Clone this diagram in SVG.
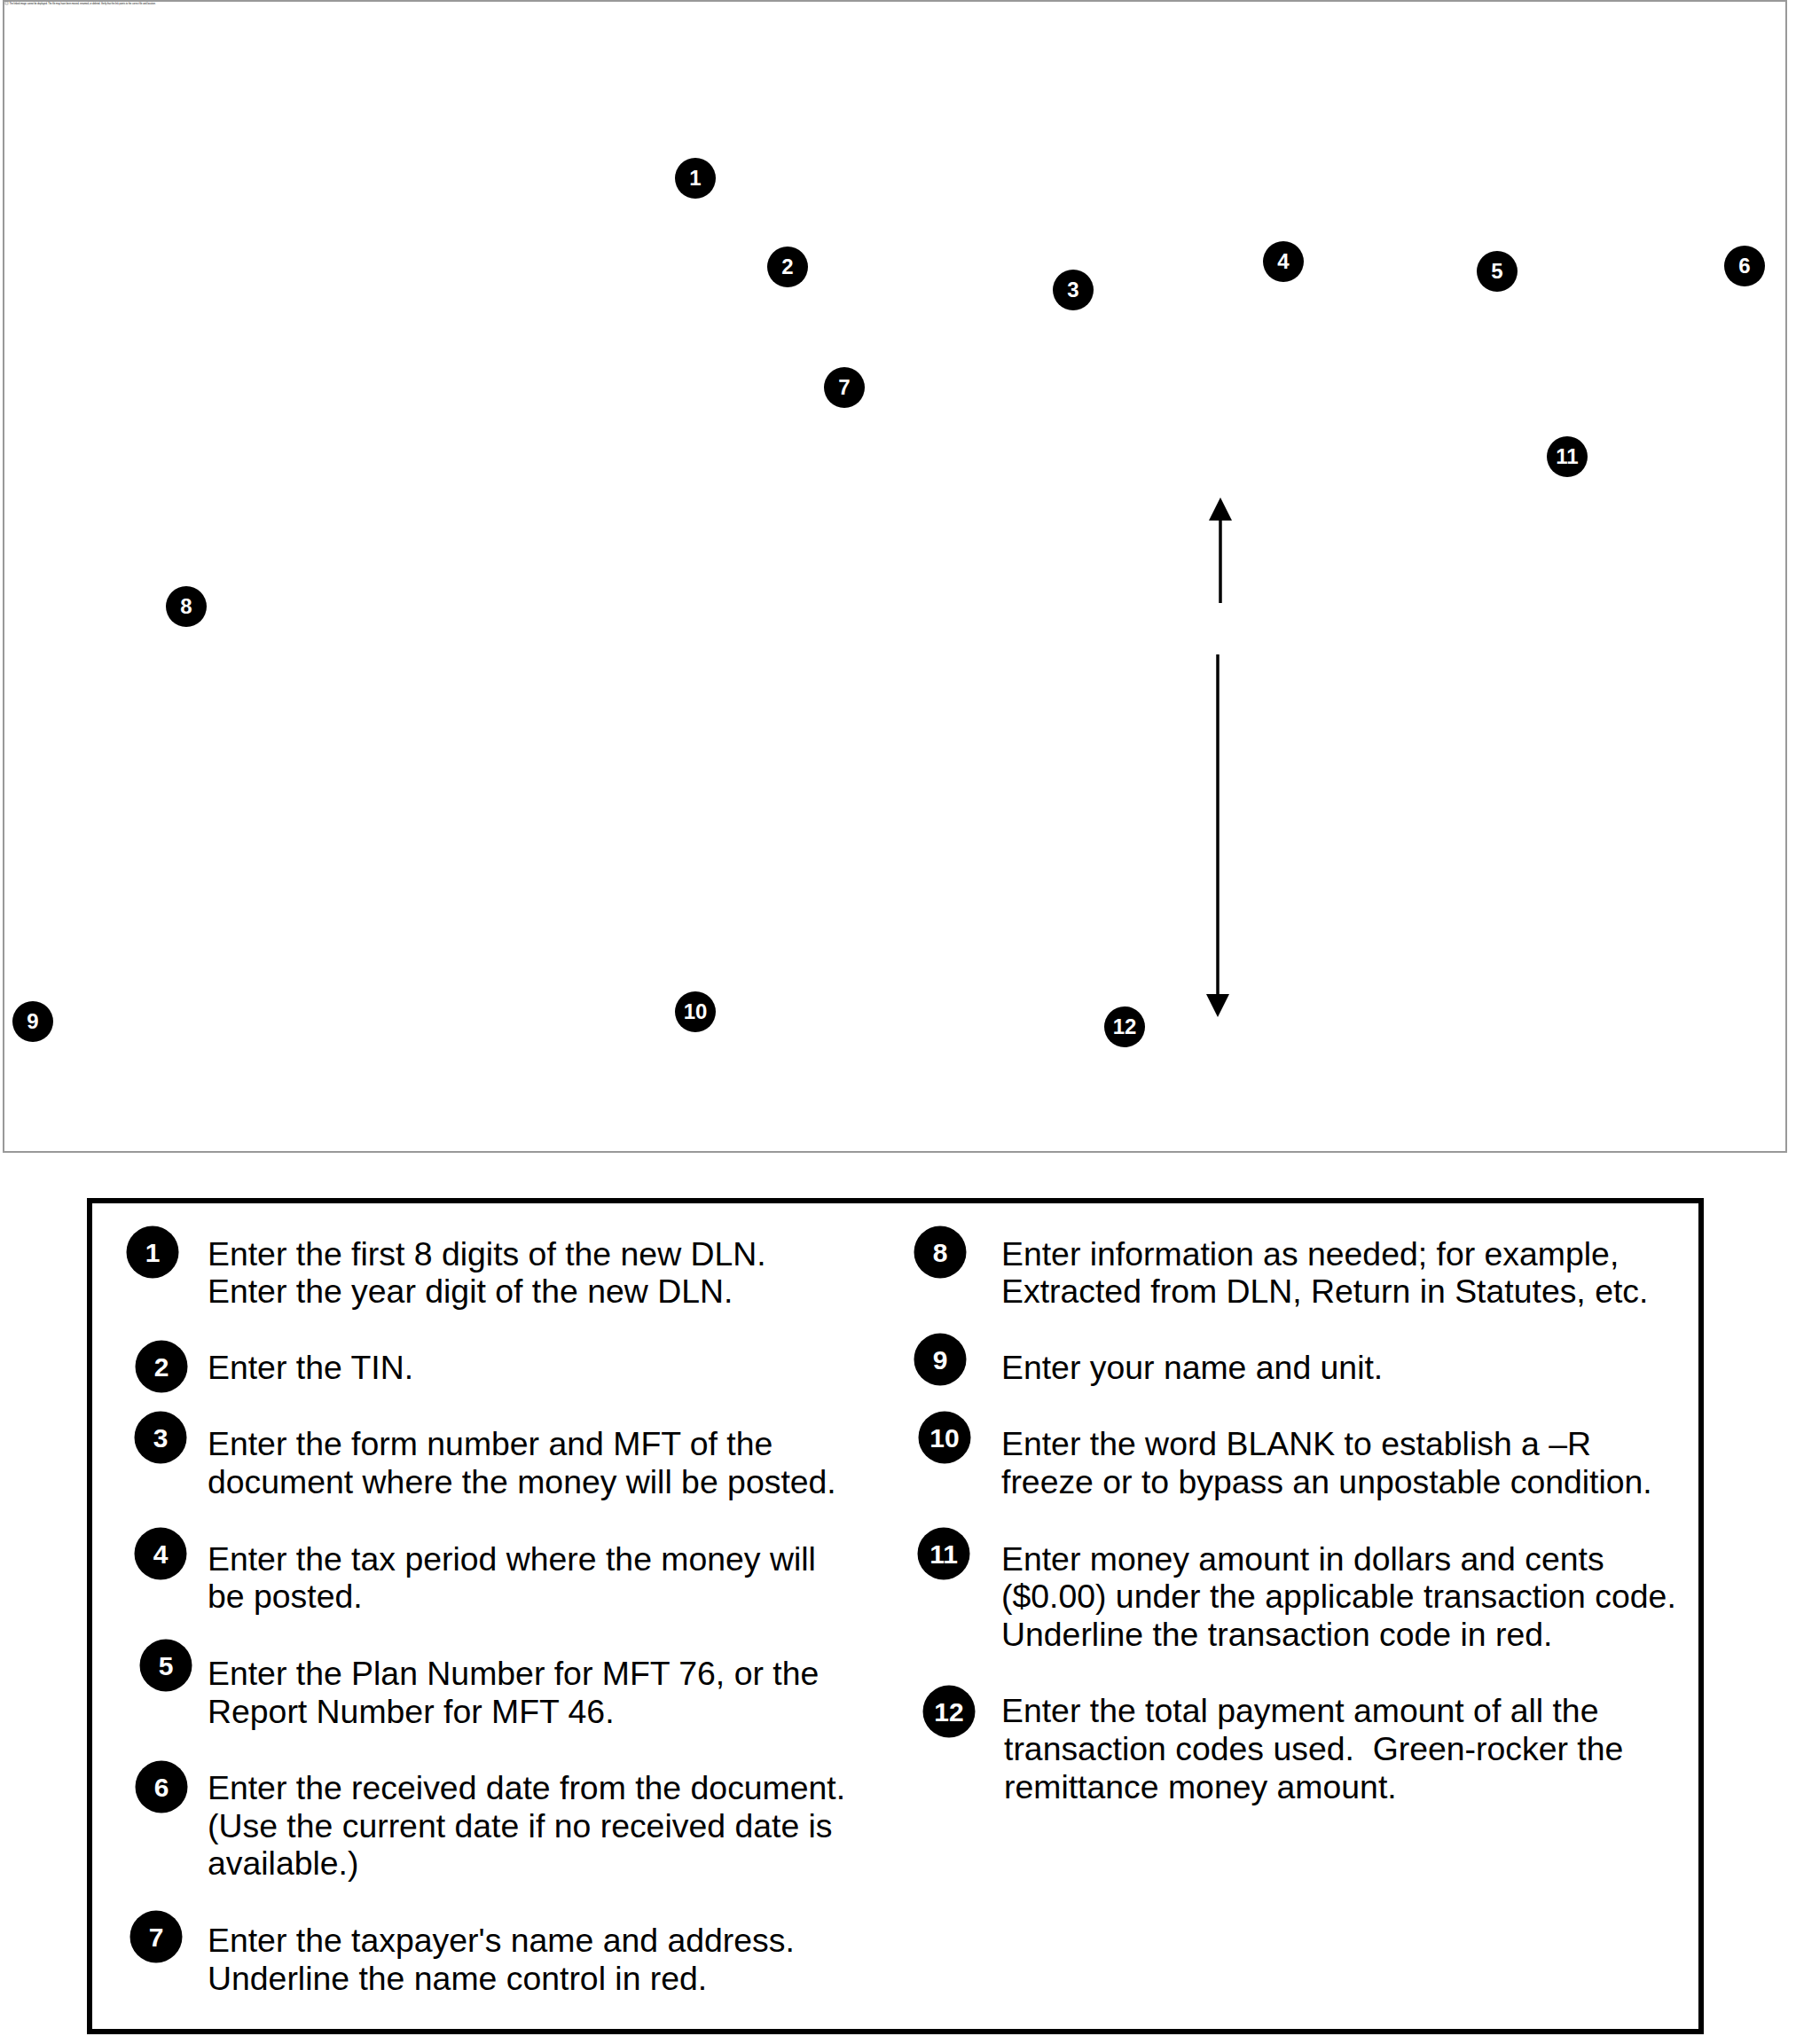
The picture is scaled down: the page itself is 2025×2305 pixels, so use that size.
<svg xmlns="http://www.w3.org/2000/svg" width="2025" height="2305" viewBox="0 0 2025 2305">
<style>
.bg{fill:#ffffff}
.frame{fill:none;stroke:#999999;stroke-width:2}
.box{fill:none;stroke:#000000;stroke-width:6}
.dot{fill:#000000}
.num{font-family:"Liberation Sans",Arial,sans-serif;font-weight:bold;font-size:24px;fill:#ffffff;text-anchor:middle}
.lnum{font-family:"Liberation Sans",Arial,sans-serif;font-weight:bold;font-size:30px;fill:#ffffff;text-anchor:middle}
.txt{font-family:"Liberation Sans",Arial,sans-serif;font-size:37.4px;fill:#000000}
.tiny{font-family:"Liberation Sans",Arial,sans-serif;font-size:2.6px;fill:#000000}
.conn{stroke:#000000;stroke-width:3.5;fill:none}
</style>
<defs>
<marker id="ah" markerUnits="userSpaceOnUse" markerWidth="26" markerHeight="26" refX="0" refY="13" orient="auto">
<path d="M0,0 L26,13 L0,26 z" fill="#000000"/>
</marker>
</defs>
<rect class="bg" x="0" y="0" width="2025" height="2305"/>
<rect class="frame" x="4" y="1" width="2010" height="1298"/>
<g id="placeholder">
<rect x="6" y="2" width="3" height="3" fill="none" stroke="#888888" stroke-width="0.6"/>
<text class="tiny" x="10.5" y="4.6" textLength="165" lengthAdjust="spacingAndGlyphs">The linked image cannot be displayed.  The file may have been moved, renamed, or deleted. Verify that the link points to the correct file and location.</text>
</g>
<g id="connectors">
<line class="conn" x1="1376" y1="680" x2="1376" y2="587" marker-end="url(#ah)"/>
<line class="conn" x1="1373" y1="738" x2="1373" y2="1121" marker-end="url(#ah)"/>
</g>
<g id="m1"><circle class="dot" cx="784" cy="201" r="23"/><text class="num" x="784" y="209">1</text></g>
<g id="m2"><circle class="dot" cx="888" cy="301" r="23"/><text class="num" x="888" y="309">2</text></g>
<g id="m3"><circle class="dot" cx="1210" cy="327" r="23"/><text class="num" x="1210" y="335">3</text></g>
<g id="m4"><circle class="dot" cx="1447" cy="295" r="23"/><text class="num" x="1447" y="303">4</text></g>
<g id="m5"><circle class="dot" cx="1688" cy="306" r="23"/><text class="num" x="1688" y="314">5</text></g>
<g id="m6"><circle class="dot" cx="1967" cy="300" r="23"/><text class="num" x="1967" y="308">6</text></g>
<g id="m7"><circle class="dot" cx="952" cy="437" r="23"/><text class="num" x="952" y="445">7</text></g>
<g id="m8"><circle class="dot" cx="210" cy="684" r="23"/><text class="num" x="210" y="692">8</text></g>
<g id="m9"><circle class="dot" cx="37" cy="1152" r="23"/><text class="num" x="37" y="1160">9</text></g>
<g id="m10"><circle class="dot" cx="784" cy="1141" r="23"/><text class="num" x="784" y="1149">10</text></g>
<g id="m11"><circle class="dot" cx="1767" cy="515" r="23"/><text class="num" x="1767" y="523">11</text></g>
<g id="m12"><circle class="dot" cx="1268" cy="1158" r="23"/><text class="num" x="1268" y="1166">12</text></g>
<g id="legend">
<rect class="box" x="101" y="1354" width="1817" height="937"/>
<g id="l1"><circle class="dot" cx="172" cy="1412" r="29.5"/><text class="lnum" x="172" y="1423">1</text>
<text class="txt" x="234" y="1427">Enter the first 8 digits of the new DLN.</text>
<text class="txt" x="234" y="1469">Enter the year digit of the new DLN.</text></g>
<g id="l2"><circle class="dot" cx="182" cy="1541" r="29.5"/><text class="lnum" x="182" y="1552">2</text>
<text class="txt" x="234" y="1555">Enter the TIN.</text></g>
<g id="l3"><circle class="dot" cx="181" cy="1621" r="29.5"/><text class="lnum" x="181" y="1632">3</text>
<text class="txt" x="234" y="1641">Enter the form number and MFT of the</text>
<text class="txt" x="234" y="1684">document where the money will be posted.</text></g>
<g id="l4"><circle class="dot" cx="181" cy="1752" r="29.5"/><text class="lnum" x="181" y="1763">4</text>
<text class="txt" x="234" y="1771">Enter the tax period where the money will</text>
<text class="txt" x="234" y="1813">be posted.</text></g>
<g id="l5"><circle class="dot" cx="187" cy="1878" r="29.5"/><text class="lnum" x="187" y="1889">5</text>
<text class="txt" x="234" y="1900">Enter the Plan Number for MFT 76, or the</text>
<text class="txt" x="234" y="1943">Report Number for MFT 46.</text></g>
<g id="l6"><circle class="dot" cx="182" cy="2015" r="29.5"/><text class="lnum" x="182" y="2026">6</text>
<text class="txt" x="234" y="2029">Enter the received date from the document.</text>
<text class="txt" x="234" y="2072">(Use the current date if no received date is</text>
<text class="txt" x="234" y="2114">available.)</text></g>
<g id="l7"><circle class="dot" cx="176" cy="2184" r="29.5"/><text class="lnum" x="176" y="2195">7</text>
<text class="txt" x="234" y="2201">Enter the taxpayer's name and address.</text>
<text class="txt" x="234" y="2244">Underline the name control in red.</text></g>
<g id="l8"><circle class="dot" cx="1060" cy="1412" r="29.5"/><text class="lnum" x="1060" y="1423">8</text>
<text class="txt" x="1129" y="1427">Enter information as needed; for example,</text>
<text class="txt" x="1129" y="1469">Extracted from DLN, Return in Statutes, etc.</text></g>
<g id="l9"><circle class="dot" cx="1060" cy="1533" r="29.5"/><text class="lnum" x="1060" y="1544">9</text>
<text class="txt" x="1129" y="1555">Enter your name and unit.</text></g>
<g id="l10"><circle class="dot" cx="1065" cy="1621" r="29.5"/><text class="lnum" x="1065" y="1632">10</text>
<text class="txt" x="1129" y="1641">Enter the word BLANK to establish a –R</text>
<text class="txt" x="1129" y="1684">freeze or to bypass an unpostable condition.</text></g>
<g id="l11"><circle class="dot" cx="1064" cy="1752" r="29.5"/><text class="lnum" x="1064" y="1763">11</text>
<text class="txt" x="1129" y="1771">Enter money amount in dollars and cents</text>
<text class="txt" x="1129" y="1813">($0.00) under the applicable transaction code.</text>
<text class="txt" x="1129" y="1856">Underline the transaction code in red.</text></g>
<g id="l12"><circle class="dot" cx="1070" cy="1930" r="29.5"/><text class="lnum" x="1070" y="1941">12</text>
<text class="txt" x="1129" y="1942">Enter the total payment amount of all the</text>
<text class="txt" x="1132" y="1985">transaction codes used.&#160; Green-rocker the</text>
<text class="txt" x="1132" y="2028">remittance money amount.</text></g>
</g>
</svg>
